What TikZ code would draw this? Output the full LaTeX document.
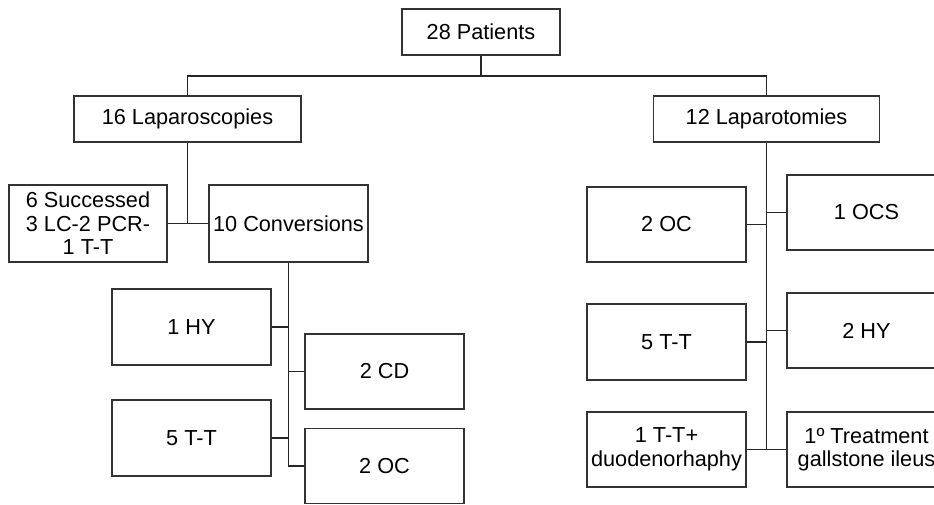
\documentclass[tikz,border=0pt]{standalone}
\usepackage{fontspec}
\setmainfont{Liberation Sans}
\begin{document}
\begin{tikzpicture}[x=1pt,y=1pt,
  box/.style={draw=black!80, fill=white, line width=1.3pt, align=center,
    inner sep=0pt, font=\fontsize{21.7}{23.5}\selectfont,
    minimum width=159pt, minimum height=76pt},
  wide/.style={box, minimum height=46pt},
  link/.style={draw=black!85, line width=1.4pt}]
\useasboundingbox (0,0) rectangle (934,-505);

% top level
\node[wide, minimum width=158pt] (pat) at (481,-32) {28 Patients};
\node[wide, minimum width=227pt] (lap) at (187.5,-119) {16 Laparoscopies};
\node[wide, minimum width=226pt] (lat) at (766.5,-119) {12 Laparotomies};
\coordinate (bus) at (481,-76);

% laparoscopy branch
\node[box, minimum width=158pt, minimum height=77pt] (succ) at (88,-223.5) {6 Successed\\3 LC-2 PCR-\\1 T-T};
\node[box, minimum height=77pt] (conv) at (288.5,-223.5) {10 Conversions};
\node[box] (hy) at (191.5,-327) {1 HY};
\node[box, minimum height=75pt] (cd) at (384.5,-371.5) {2 CD};
\node[box] (tt) at (191.5,-438) {5 T-T};
\node[box, minimum height=75pt] (oc) at (384.5,-466) {2 OC};

% laparotomy branch
\node[box, minimum height=75pt] (oc2) at (666.5,-224.5) {2 OC};
\node[box, minimum height=75pt] (ocs) at (866.5,-212.5) {1 OCS};
\node[box] (tt2) at (666.5,-342) {5 T-T};
\node[box, minimum height=75pt] (hy2) at (866.5,-330.5) {2 HY};
\node[box, minimum height=75pt] (ttd) at (666.5,-449.5) {1 T-T+\\duodenorhaphy};
\node[box, minimum height=75pt] (trt) at (866.5,-449.5) {1º Treatment\\gallstone ileus};

% connectors
\draw[link] (pat.south) -- (bus);
\draw[link] (lap.north) |- (bus) -| (lat.north);

\draw[link] (lap.south) -- (lap.south |- succ.east);
\draw[link] (succ.east) -- (conv.west);

\draw[link] (conv.south) |- (oc.west);
\draw[link] (hy.east) -- (hy.east -| conv.south);
\draw[link] (cd.west) -- (cd.west -| conv.south);
\draw[link] (tt.east) -- (tt.east -| conv.south);

\draw[link] (lat.south) -- (lat.south |- ttd.east);
\draw[link] (ttd.east) -- (trt.west);
\draw[link] (oc2.east) -- (oc2.east -| lat.south);
\draw[link] (ocs.west) -- (ocs.west -| lat.south);
\draw[link] (tt2.east) -- (tt2.east -| lat.south);
\draw[link] (hy2.west) -- (hy2.west -| lat.south);
\end{tikzpicture}
\end{document}
